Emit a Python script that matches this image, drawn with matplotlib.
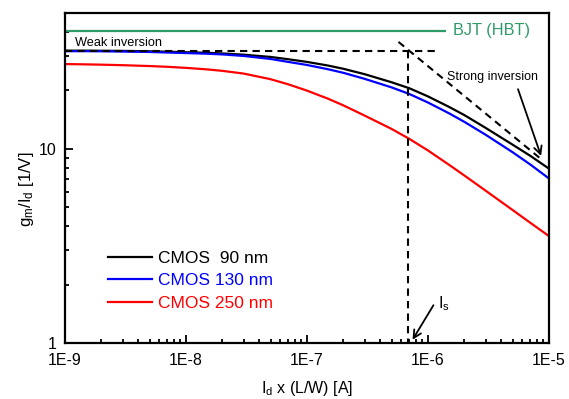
"""
gm/Id 対 正規化ドレイン電流のグラフ
"""

import matplotlib
import matplotlib.pyplot as plt
from matplotlib.ticker import FixedLocator, LogLocator, NullFormatter

matplotlib.use("Agg")

plt.rcParams["font.family"] = ["Liberation Sans", "DejaVu Sans"]
plt.rcParams["mathtext.fontset"] = "custom"
plt.rcParams["mathtext.rm"] = "Liberation Sans"
plt.rcParams["mathtext.it"] = "Liberation Sans"

# データ
id_norm = [1e-9, 1.5e-9, 2e-9, 3e-9, 5e-9, 7e-9,
           1e-8, 1.5e-8, 2e-8, 3e-8, 5e-8, 7e-8,
           1e-7, 1.5e-7, 2e-7, 3e-7, 5e-7, 7e-7,
           1e-6, 1.5e-6, 2e-6, 3e-6, 5e-6, 7e-6, 1e-5]
gm_id_90 = [32.0, 32.0, 31.95, 31.9, 31.75, 31.6,
            31.4, 31.2, 30.95, 30.5, 29.7, 28.9,
            28.0, 26.8, 25.8, 24.2, 22.0, 20.5,
            18.6, 16.4, 14.9, 12.8, 10.5, 9.2, 7.9]
gm_id_130 = [31.8, 31.8, 31.75, 31.65, 31.5, 31.3,
             31.1, 30.85, 30.6, 30.05, 29.0, 28.0,
             27.0, 25.65, 24.6, 22.9, 20.7, 19.15,
             17.3, 15.2, 13.75, 11.8, 9.6, 8.3, 7.03]
gm_id_250 = [27.3, 27.19, 27.1, 26.93, 26.66, 26.42,
             26.09, 25.62, 25.18, 24.38, 22.81, 21.47,
             19.92, 18.08, 16.72, 14.81, 12.65, 11.25,
             9.8, 8.25, 7.28, 6.08, 4.84, 4.16, 3.55]
labels = ["CMOS  90 nm", "CMOS 130 nm", "CMOS 250 nm"]
colors = ["black", "blue", "red"]

bjt_level = 40.5
bjt_x = [1e-9, 1.38e-6]
weak_level = 32.0
weak_x = [1e-9, 1.15e-6]
i_s = 6.8e-7
strong_x = [5.7e-7, 8.5e-6]
strong_y = [35.5, 8.9]

green = "#2e9a68"

fig = plt.figure(figsize=(5.69, 3.99), dpi=100)
ax = fig.add_axes([65 / 569, 1 - 343 / 399, 484 / 569, 330 / 399])

for y, lab, c in zip([gm_id_90, gm_id_130, gm_id_250], labels, colors):
    ax.plot(id_norm, y, color=c, lw=1.6, label=lab)

# BJT
ax.plot(bjt_x, [bjt_level, bjt_level], color=green, lw=1.6)
ax.text(1.61e-6, bjt_level, "BJT (HBT)", color=green, fontsize=11.7,
        ha="left", va="center")

# 漸近線
dash = (0, (3.5, 2.5))
ax.plot(weak_x, [weak_level, weak_level], color="black", lw=1.5, ls=dash)
ax.plot([i_s, i_s], [weak_level, 1], color="black", lw=1.5, ls=dash)
ax.plot(strong_x, strong_y, color="black", lw=1.5, ls=dash)

ax.text(1.2e-9, 35.2, "Weak inversion", fontsize=9.2, ha="left",
        va="center")
ax.text(1.43e-6, 23.5, "Strong inversion", fontsize=9, ha="left",
        va="center")
ax.annotate("", xy=(8.75e-6, 8.9), xytext=(5.45e-6, 20.9),
            arrowprops=dict(arrowstyle="->", color="black", lw=1.3,
                            mutation_scale=14))
ax.text(1.22e-6, 1.6, r"I$_\mathrm{s}$", fontsize=11.5, ha="left",
        va="center")
ax.annotate("", xy=(7.25e-7, 1.01), xytext=(1.14e-6, 1.61),
            arrowprops=dict(arrowstyle="->", color="black", lw=1.3,
                            mutation_scale=14))

ax.set_xscale("log")
ax.set_yscale("log")
ax.set_xlim(1e-9, 1e-5)
ax.set_ylim(1, 50)

ax.xaxis.set_major_locator(FixedLocator([1e-9, 1e-8, 1e-7, 1e-6, 1e-5]))
ax.set_xticklabels(["1E-9", "1E-8", "1E-7", "1E-6", "1E-5"])
ax.xaxis.set_minor_locator(LogLocator(base=10, subs=range(2, 10)))
ax.xaxis.set_minor_formatter(NullFormatter())
ax.yaxis.set_major_locator(FixedLocator([1, 10]))
ax.set_yticklabels(["1", "10"])
ax.yaxis.set_minor_locator(LogLocator(base=10, subs=range(2, 10)))
ax.yaxis.set_minor_formatter(NullFormatter())

ax.tick_params(which="both", direction="in", labelsize=11.5, width=1.3)
ax.tick_params(which="major", length=6)
ax.tick_params(which="minor", length=3)
ax.tick_params(axis="x", which="major", pad=7)
ax.tick_params(axis="y", which="major", pad=6)
for s in ax.spines.values():
    s.set_linewidth(1.6)

ax.set_xlabel(r"I$_\mathrm{d}$ x (L/W) [A]", fontsize=11.5, labelpad=8)
ax.set_ylabel(r"g$_\mathrm{m}$/I$_\mathrm{d}$ [1/V]", fontsize=12)
ax.yaxis.set_label_coords(-0.06, 0.467)

ax.legend(loc="upper left", bbox_to_anchor=(0.057, 0.327), frameon=False,
          fontsize=12.5, handlelength=2.5, handletextpad=0.35,
          labelspacing=0.42, labelcolor="linecolor")

plt.savefig("out.png", dpi=100)
plt.close()
